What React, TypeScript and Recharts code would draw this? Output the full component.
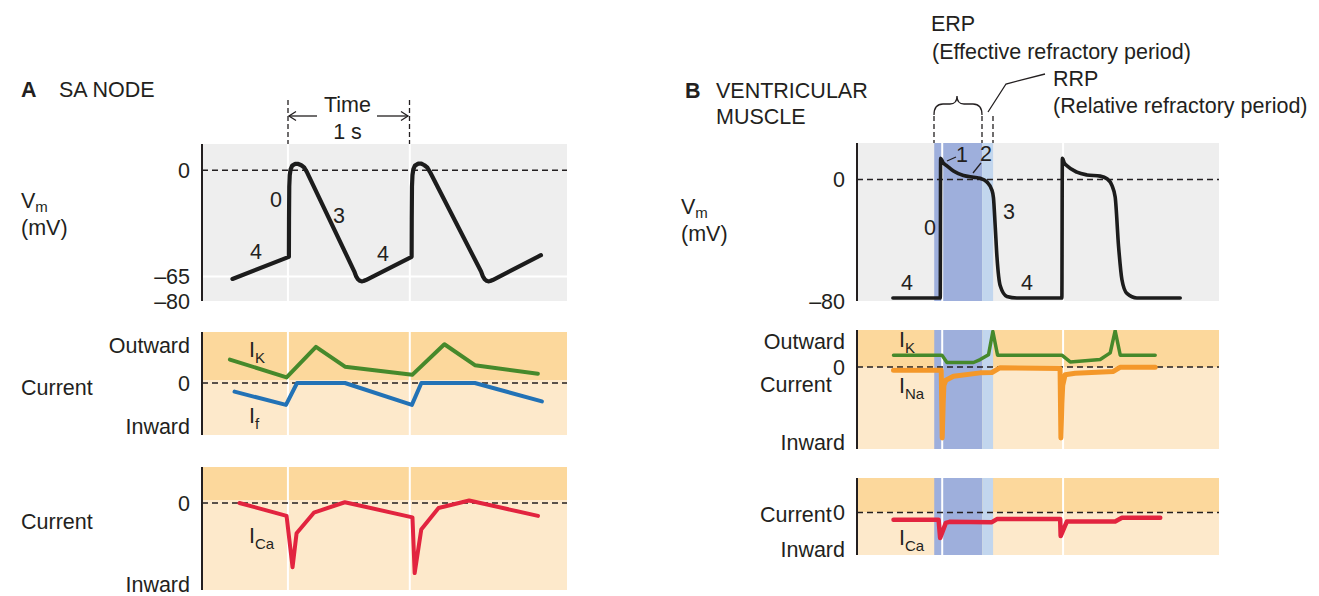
import React from 'react';
import { ComposedChart, Line, XAxis, YAxis, ReferenceArea, ReferenceLine } from 'recharts';

const FONT = '"Liberation Sans", Arial, Helvetica, sans-serif';
const INK = '#231f20';
const GRAY = '#eeeeee';
const ORANGE_DARK = '#fcd89c';
const ORANGE_LIGHT = '#fde9cb';
const BLUE_DARK = '#9eafdc';
const BLUE_LIGHT = '#c2d6ee';
const FS = 21.5;

type Pair = [number, number];

// shared time axis (ms); stimuli at 0 and 1000 ms (1 s apart)
const timeDomain: [number, number] = [-705, 2290];
const stimulusTimes = [0, 1000];

// ---------- Panel A: SA node ----------
const aVm: Pair[] = [
  [-455, -66.5], [8, -53], [9, -30], [11, -10], [15, -3], [22, 0.5], [35, 2.8], [60, 3.8], [85, 3.8], [110, 3],
  [135, 1.5], [155, -1], [545, -62], [560, -65], [575, -66.8], [590, -67.6], [605, -68], [620, -67.8], [640, -67.2],
  [1015, -53], [1016, -30], [1018, -10], [1022, -3], [1029, 0.5], [1042, 2.8], [1070, 4], [1095, 4], [1120, 3],
  [1145, 1.5], [1165, -1], [1585, -62], [1600, -65], [1615, -66.8], [1630, -67.6], [1645, -68], [1660, -67.8],
  [1680, -67.2], [2076, -52],
];
const aIK: Pair[] = [[-476, 0.46], [-11, 0.11], [230, 0.71], [468, 0.32], [1020, 0.16], [1284, 0.76], [1534, 0.35], [2051, 0.18]];
const aIf: Pair[] = [[-438, -0.17], [-16, -0.43], [75, 0], [468, 0], [1017, -0.43], [1095, 0], [1534, 0], [2084, -0.36]];
const aICa: Pair[] = [
  [-398, 0], [-11, -0.36], [38, -1.79], [71, -0.84], [213, -0.27], [467, 0.02],
  [1022, -0.4], [1040, -1.95], [1094, -0.74], [1236, -0.14], [1487, 0.07], [2052, -0.36],
];
const aVmTicks = [0, -65, -80];
const aVmTickLabels = ['0', '\u201365', '\u201380'];
const aCur1Ticks = [0.745, 0, -0.86];
const aCur1TickLabels = ['Outward', '0', 'Inward'];
const aCur2Ticks = [0, -2.25];
const aCur2TickLabels = ['0', 'Inward'];

// ---------- Panel B: ventricular muscle ----------
const bVm: Pair[] = [
  [-408, -78], [-16, -78], [-13, 14], [8, 11], [39, 9], [93, 5.5], [176, 2.6], [259, 1.5], [314, 0.8], [370, -1.7],
  [411, -7], [424, -12], [438, -30], [453, -51], [480, -70], [535, -77], [618, -78],
  [990, -78], [994, 14], [1010, 11], [1032, 9], [1114, 4.8], [1197, 3], [1307, 2.2], [1363, 0.5], [1404, -3.9],
  [1431, -11.6], [1459, -44], [1487, -66], [1528, -75], [1611, -78], [1969, -78],
];
const bIK: Pair[] = [
  [-403, 0.32], [-2, 0.32], [39, 0.12], [259, 0.12], [314, 0.2], [383, 0.33], [419, 0.96], [458, 0.32],
  [990, 0.32], [1059, 0.135], [1307, 0.2], [1390, 0.38], [1431, 0.98], [1473, 0.32], [1762, 0.32],
];
const bINa: Pair[] = [
  [-403, -0.09], [-8, -0.09], [0, -1.92], [8, -1.0], [14, -0.5], [30, -0.36], [93, -0.25], [314, -0.16], [411, -0.15],
  [480, -0.02], [975, -0.04], [982, -1.92], [990, -1.0], [997, -0.5], [1017, -0.21], [1100, -0.17], [1416, -0.12],
  [1471, -0.01], [1762, -0.01],
];
const bICa: Pair[] = [
  [-403, -0.21], [-30, -0.21], [-17, -0.74], [30, -0.3], [60, -0.27], [411, -0.28], [453, -0.19],
  [976, -0.19], [980, -0.68], [1031, -0.26], [1431, -0.26], [1487, -0.15], [1804, -0.15],
];
const bVmTicks = [0, -80];
const bVmTickLabels = ['0', '\u201380'];
const bCur1Ticks = [0.69, 0, -2.05];
const bCur1TickLabels = ['Outward', '0', 'Inward'];
const bCur2Ticks = [0, -1.08];
const bCur2TickLabels = ['0', 'Inward'];
const erpWindow: Pair = [-66, 331];
const rrpWindow: Pair = [331, 421];

const toRows = (pairs: Pair[]) => pairs.map(([t, v]) => ({ t, v }));

interface SeriesSpec { name: string; data: Pair[]; color: string; width: number; curve: 'monotone' | 'linear' }

interface PanelProps {
  left: number; top: number; width: number; height: number;
  yDomain: [number, number];
  ticks: number[]; tickLabels: string[];
  yAxisWidth: number;
  bg: 'gray' | 'orange';
  splitAt?: number;
  whiteY?: number[];
  refractory?: boolean;
  series: SeriesSpec[];
}

function Panel(p: PanelProps) {
  const m = { top: 4, right: 8, bottom: 4, left: 0 };
  const [y0, y1] = p.yDomain;
  const areas: React.ReactNode[] = [];
  if (p.bg === 'gray') {
    areas.push(<ReferenceArea key="bg" x1={timeDomain[0]} x2={timeDomain[1]} y1={y0} y2={y1} fill={GRAY} fillOpacity={1} stroke="none" ifOverflow="visible" zIndex={-300} />);
  } else {
    const s = p.splitAt ?? 0;
    areas.push(<ReferenceArea key="out" x1={timeDomain[0]} x2={timeDomain[1]} y1={s} y2={y1} fill={ORANGE_DARK} fillOpacity={1} stroke="none" ifOverflow="visible" zIndex={-300} />);
    areas.push(<ReferenceArea key="in" x1={timeDomain[0]} x2={timeDomain[1]} y1={y0} y2={s} fill={ORANGE_LIGHT} fillOpacity={1} stroke="none" ifOverflow="visible" zIndex={-300} />);
  }
  if (p.refractory) {
    areas.push(<ReferenceArea key="erp" x1={erpWindow[0]} x2={erpWindow[1]} y1={y0} y2={y1} fill={BLUE_DARK} fillOpacity={1} stroke="none" ifOverflow="visible" zIndex={-250} />);
    areas.push(<ReferenceArea key="rrp" x1={rrpWindow[0]} x2={rrpWindow[1]} y1={y0} y2={y1} fill={BLUE_LIGHT} fillOpacity={1} stroke="none" ifOverflow="visible" zIndex={-250} />);
  }
  return (
    <div style={{ position: 'absolute', left: p.left - p.yAxisWidth, top: p.top - m.top }}>
      <ComposedChart width={p.yAxisWidth + p.width + m.right} height={p.height + m.top + m.bottom} margin={m}>
        {areas}
        {stimulusTimes.map((t) => (
          <ReferenceLine key={'s' + t} x={t} stroke="#ffffff" strokeWidth={2} ifOverflow="visible" zIndex={-200} />
        ))}
        {(p.whiteY ?? []).map((y) => (
          <ReferenceLine key={'w' + y} y={y} stroke="#ffffff" strokeWidth={2} ifOverflow="visible" zIndex={-200} />
        ))}
        <ReferenceLine y={0} stroke={INK} strokeWidth={1.5} strokeDasharray="6 4" ifOverflow="visible" zIndex={-150} />
        <XAxis type="number" dataKey="t" domain={timeDomain} allowDataOverflow tick={false} tickLine={false}
          axisLine={{ stroke: INK, strokeWidth: 2 }} height={0} />
        <YAxis type="number" domain={p.yDomain} allowDataOverflow ticks={p.ticks} interval={0} width={p.yAxisWidth}
          tickLine={false} tickSize={0} tickMargin={12} axisLine={{ stroke: INK, strokeWidth: 2 }}
          tick={{ fill: INK, fontSize: FS, fontFamily: FONT }}
          tickFormatter={(v: number) => p.tickLabels[p.ticks.indexOf(v)] ?? ''} />
        {p.series.map((s) => (
          <Line key={s.name} name={s.name} data={toRows(s.data)} dataKey="v" type={s.curve} stroke={s.color}
            strokeWidth={s.width} dot={false} activeDot={false} isAnimationActive={false}
            strokeLinejoin="round" strokeLinecap="round" />
        ))}
      </ComposedChart>
    </div>
  );
}

function Sub({ x, y, main, sub, subSize = 15, dy = 7 }: { x: number; y: number; main: string; sub: string; subSize?: number; dy?: number }) {
  return (
    <text x={x} y={y} dominantBaseline="central">
      {main}
      <tspan fontSize={subSize} dy={dy}>{sub}</tspan>
    </text>
  );
}

function T({ x, y, children, anchor = 'start', bold = false }: { x: number; y: number; children: React.ReactNode; anchor?: 'start' | 'middle' | 'end'; bold?: boolean }) {
  return (
    <text x={x} y={y} textAnchor={anchor} dominantBaseline="central" fontWeight={bold ? 'bold' : 'normal'}>{children}</text>
  );
}

function Overlay() {
  return (
    <svg width={1319} height={596} style={{ position: 'absolute', left: 0, top: 0, pointerEvents: 'none', overflow: 'visible' }}>
      <g fontFamily={FONT} fontSize={FS} fill={INK}>
        {/* Panel A */}
        <T x={21} y={90} bold>A</T>
        <T x={59} y={90}>SA NODE</T>
        <T x={347.5} y={105} anchor="middle">Time</T>
        <T x={347.5} y={132} anchor="middle">1 s</T>
        <Sub x={21} y={201} main="V" sub="m" dy={5} />
        <T x={21} y={228}>(mV)</T>
        <T x={21} y={388}>Current</T>
        <T x={21} y={522}>Current</T>
        <T x={276} y={200} anchor="middle">0</T>
        <T x={256} y={252} anchor="middle">4</T>
        <T x={339} y={216} anchor="middle">3</T>
        <T x={383} y={254} anchor="middle">4</T>
        <Sub x={249} y={350} main="I" sub="K" />
        <Sub x={249} y={416} main="I" sub="f" />
        <Sub x={249} y={536} main="I" sub="Ca" />

        {/* Panel B */}
        <T x={685} y={91} bold>B</T>
        <T x={716} y={91}>VENTRICULAR</T>
        <T x={716} y={117}>MUSCLE</T>
        <T x={931} y={24}>ERP</T>
        <T x={932} y={52}>(Effective refractory period)</T>
        <T x={1053} y={79}>RRP</T>
        <T x={1053} y={106}>(Relative refractory period)</T>
        <Sub x={681} y={207} main="V" sub="m" dy={5} />
        <T x={681} y={234}>(mV)</T>
        <T x={760} y={385}>Current</T>
        <T x={760} y={515}>Current</T>
        <T x={907} y={283} anchor="middle">4</T>
        <T x={930} y={228} anchor="middle">0</T>
        <T x={962} y={155} anchor="middle">1</T>
        <T x={986} y={154} anchor="middle">2</T>
        <T x={1009} y={212} anchor="middle">3</T>
        <T x={1027} y={283} anchor="middle">4</T>
        <Sub x={899} y={340} main="I" sub="K" />
        <Sub x={899} y={386} main="I" sub="Na" />
        <Sub x={899} y={538} main="I" sub="Ca" />
      </g>
      <g stroke={INK} fill="none" strokeWidth={1.3}>
        {/* Time bracket */}
        <line x1={288} y1={100} x2={288} y2={144} strokeDasharray="5 3" />
        <line x1={409.5} y1={100} x2={409.5} y2={144} strokeDasharray="5 3" />
        <line x1={289} y1={116} x2={317} y2={116} />
        <polyline points="296,111.5 289,116 296,120.5" />
        <line x1={377} y1={116} x2={408} y2={116} />
        <polyline points="401,111.5 408,116 401,120.5" />
        {/* ERP brace and RRP leader */}
        <path d="M934,115 Q934,104 943,104 L950,104 Q957,104 957,96 Q957,104 964,104 L973,104 Q982,104 982,115" />
        <polyline points="988,112 1006,84 1045,74" />
        <line x1={934} y1={116} x2={934} y2={143} strokeDasharray="5 3" />
        <line x1={982} y1={116} x2={982} y2={143} strokeDasharray="5 3" />
        <line x1={993} y1={116} x2={993} y2={143} strokeDasharray="5 3" />
        {/* phase leaders */}
        <line x1={947} y1={161} x2={956} y2={157} />
        <line x1={973} y1={173} x2={981} y2={163} />
      </g>
    </svg>
  );
}

export default function App() {
  const black = '#1c1c1c';
  return (
    <div style={{ position: 'absolute', left: 0, top: 0, width: 1319, height: 596, background: '#ffffff', overflow: 'hidden' }}>
      <style>{'.recharts-surface{overflow:visible}'}</style>
      <Panel left={202} top={144} width={365} height={157} yDomain={[-80, 16]} ticks={aVmTicks} tickLabels={aVmTickLabels}
        yAxisWidth={70} bg="gray" whiteY={[-65]}
        series={[{ name: 'Vm', data: aVm, color: black, width: 4.2, curve: 'linear' }]} />
      <Panel left={202} top={332} width={365} height={103} yDomain={[-1.02, 1]} ticks={aCur1Ticks} tickLabels={aCur1TickLabels}
        yAxisWidth={110} bg="orange" splitAt={0.06}
        series={[
          { name: 'IK', data: aIK, color: '#46892b', width: 4, curve: 'linear' },
          { name: 'If', data: aIf, color: '#2272b6', width: 4, curve: 'linear' },
        ]} />
      <Panel left={202} top={467} width={365} height={123} yDomain={[-2.42, 1]} ticks={aCur2Ticks} tickLabels={aCur2TickLabels}
        yAxisWidth={110} bg="orange" splitAt={0.08}
        series={[{ name: 'ICa', data: aICa, color: '#e2243f', width: 4, curve: 'linear' }]} />

      <Panel left={857} top={143} width={362} height={158} yDomain={[-80, 24]} ticks={bVmTicks} tickLabels={bVmTickLabels}
        yAxisWidth={70} bg="gray" refractory
        series={[{ name: 'Vm', data: bVm, color: black, width: 3.6, curve: 'monotone' }]} />
      <Panel left={857} top={330} width={362} height={119} yDomain={[-2.22, 1]} ticks={bCur1Ticks} tickLabels={bCur1TickLabels}
        yAxisWidth={110} bg="orange" splitAt={0} refractory
        series={[
          { name: 'IK', data: bIK, color: '#46892b', width: 3.5, curve: 'linear' },
          { name: 'INa', data: bINa, color: '#f4982a', width: 5, curve: 'linear' },
        ]} />
      <Panel left={857} top={478} width={362} height={77} yDomain={[-1.23, 1]} ticks={bCur2Ticks} tickLabels={bCur2TickLabels}
        yAxisWidth={110} bg="orange" splitAt={0} refractory
        series={[{ name: 'ICa', data: bICa, color: '#e2243f', width: 4.5, curve: 'linear' }]} />

      <Overlay />
    </div>
  );
}
